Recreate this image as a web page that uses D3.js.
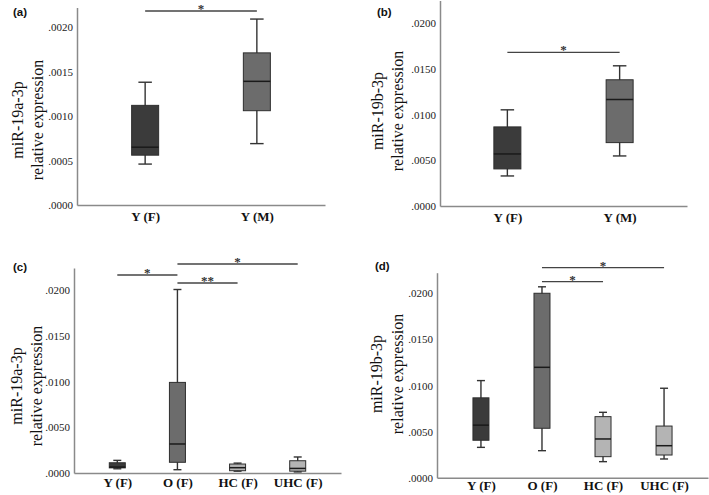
<!DOCTYPE html>
<html>
<head>
<meta charset="utf-8">
<script src="https://cdn.jsdelivr.net/npm/d3@7"></script>
<style>
  body { margin: 0; background: #fff; }
  svg { display: block; }
</style>
</head>
<body>
<svg id="chart" width="709" height="495"></svg>
<script>
// categories
const groupsYoung = ["Y (F)", "Y (M)"];
const groupsFemale = ["Y (F)", "O (F)", "HC (F)", "UHC (F)"];

// box stats: [lower whisker, Q1, median, Q3, upper whisker]
const miR19aYoung = [
    [0.00046, 0.00056, 0.00065, 0.00112, 0.00138],
    [0.00069, 0.00106, 0.00139, 0.00171, 0.00209]
];
const miR19bYoung = [
    [0.00329, 0.00406, 0.00570, 0.00866, 0.01053],
    [0.00548, 0.00694, 0.01166, 0.01382, 0.01535]
];
const miR19aFemale = [
    [0.00046, 0.00056, 0.00065, 0.00112, 0.00138],
    [0.00036, 0.00117, 0.00317, 0.00990, 0.02005],
    [0.00020, 0.00025, 0.00058, 0.00098, 0.00108],
    [0.00012, 0.00020, 0.00050, 0.00134, 0.00175]
];
const miR19bFemale = [
    [0.00329, 0.00406, 0.00570, 0.00866, 0.01053],
    [0.00293, 0.00536, 0.01197, 0.02000, 0.02070],
    [0.00174, 0.00228, 0.00420, 0.00662, 0.00709],
    [0.00203, 0.00246, 0.00347, 0.00560, 0.00970]
];

// tick labels
const ticks19aYoung = [0, 0.0005, 0.0010, 0.0015, 0.0020];
const ticksWide = [0, 0.0050, 0.0100, 0.0150, 0.0200];

// significance brackets: [from, to, mark]
const sigA = [["Y (F)", "Y (M)", "*"]];
const sigB = [["Y (F)", "Y (M)", "*"]];
const sigC = [["Y (F)", "O (F)", "*"], ["O (F)", "HC (F)", "**"], ["O (F)", "UHC (F)", "*"]];
const sigD = [["O (F)", "HC (F)", "*"], ["O (F)", "UHC (F)", "*"]];

const fillColor = {
    "Y (F)": "#3b3b3b",
    "Y (M)": "#6c6c6c",
    "O (F)": "#6c6c6c",
    "HC (F)": "#b4b4b4",
    "UHC (F)": "#b4b4b4"
};

const fmt = v => d3.format(".4f")(v).replace(/^0/, "");
const serif = "'Liberation Serif', 'Times New Roman', serif";

const panels = [
    { tag: "(a)", name: "miR-19a-3p", groups: groupsYoung, stats: miR19aYoung, ticks: ticks19aYoung, sig: sigA,
      x0: 77, x1: 325, yBottom: 205, yTop: 7.5, yMax: 0.00222, pad: 0.61, boxW: 27, labelPad: 7,
      sigY: [11], tagX: 13, tagY: 16, titleX: [18, 38], titleY: 120 },
    { tag: "(b)", name: "miR-19b-3p", groups: groupsYoung, stats: miR19bYoung, ticks: ticksWide, sig: sigB,
      x0: 440, x1: 687, yBottom: 206, yTop: 0.5, yMax: 0.0225, pad: 0.6, boxW: 27, labelPad: 7,
      sigY: [52.3], tagX: 377, tagY: 16, titleX: [378, 398], titleY: 111 },
    { tag: "(c)", name: "miR-19a-3p", groups: groupsFemale, stats: miR19aFemale, ticks: ticksWide, sig: sigC,
      x0: 74, x1: 341, yBottom: 473, yTop: 268, yMax: 0.0224, pad: 0.72, boxW: 16, labelPad: 4.5,
      sigY: [275, 283, 264], tagX: 13, tagY: 271, titleX: [17, 37], titleY: 386 },
    { tag: "(d)", name: "miR-19b-3p", groups: groupsFemale, stats: miR19bFemale, ticks: ticksWide, sig: sigD,
      x0: 437, x1: 708, yBottom: 477.7, yTop: 272.7, yMax: 0.02223, pad: 0.72, boxW: 16, labelPad: 3.5,
      sigY: [281.7, 267.7], tagX: 375, tagY: 270, titleX: [377, 398], titleY: 374 }
];

const svg = d3.select("#chart");

function drawPanel(p) {
    const g = svg.append("g");

    const x = d3.scalePoint().domain(p.groups).range([p.x0, p.x1]).padding(p.pad);
    const y = d3.scaleLinear().domain([0, p.yMax]).range([p.yBottom, p.yTop]);

    // y axis (line + labels, no tick marks)
    const yAxis = d3.axisLeft(y).tickValues(p.ticks).tickFormat(fmt).tickSize(0).tickPadding(4);
    g.append("g")
        .attr("transform", `translate(${p.x0},0)`)
        .call(yAxis)
        .call(a => a.select(".domain").attr("stroke", "#8a8a8a").attr("stroke-width", 1.5))
        .call(a => a.selectAll("text")
            .attr("font-family", serif)
            .attr("font-size", 11)
            .attr("fill", "#222"));

    // x axis
    const xAxis = d3.axisBottom(x).tickSize(0).tickPadding(p.labelPad);
    g.append("g")
        .attr("transform", `translate(0,${p.yBottom})`)
        .call(xAxis)
        .call(a => a.select(".domain").attr("stroke", "#8a8a8a").attr("stroke-width", 1.5))
        .call(a => a.selectAll("text")
            .attr("font-family", serif)
            .attr("font-weight", "bold")
            .attr("font-size", 13)
            .attr("fill", "#111"));

    // boxes
    const boxes = g.selectAll(".box")
        .data(p.groups.map((name, i) => ({ name, s: p.stats[i] })))
        .join("g")
        .attr("class", "box");

    const half = p.boxW / 2;
    const cap = p.boxW / 4;

    boxes.append("line")
        .attr("x1", d => x(d.name)).attr("x2", d => x(d.name))
        .attr("y1", d => y(d.s[0])).attr("y2", d => y(d.s[4]))
        .attr("stroke", "#333").attr("stroke-width", 1.4);

    boxes.selectAll(".cap")
        .data(d => [d.s[0], d.s[4]].map(v => ({ name: d.name, v })))
        .join("line")
        .attr("class", "cap")
        .attr("x1", d => x(d.name) - cap).attr("x2", d => x(d.name) + cap)
        .attr("y1", d => y(d.v)).attr("y2", d => y(d.v))
        .attr("stroke", "#333").attr("stroke-width", 1.4);

    boxes.append("rect")
        .attr("x", d => x(d.name) - half)
        .attr("width", p.boxW)
        .attr("y", d => y(d.s[3]))
        .attr("height", d => y(d.s[1]) - y(d.s[3]))
        .attr("fill", d => fillColor[d.name])
        .attr("stroke", "#2e2e2e").attr("stroke-width", 1);

    boxes.append("line")
        .attr("x1", d => x(d.name) - half).attr("x2", d => x(d.name) + half)
        .attr("y1", d => y(d.s[2])).attr("y2", d => y(d.s[2]))
        .attr("stroke", "#1a1a1a").attr("stroke-width", 1.5);

    // significance brackets
    p.sig.forEach(([from, to, mark], i) => {
        const ly = p.sigY[i];
        g.append("line")
            .attr("x1", x(from)).attr("x2", x(to))
            .attr("y1", ly).attr("y2", ly)
            .attr("stroke", "#444").attr("stroke-width", 1.3);
        g.append("text")
            .attr("x", (x(from) + x(to)) / 2)
            .attr("y", ly + 2)
            .attr("text-anchor", "middle")
            .attr("font-family", serif)
            .attr("font-weight", "bold")
            .attr("font-size", 13)
            .attr("fill", "#333")
            .text(mark);
    });

    // axis title, two lines rotated
    [p.name, "relative expression"].forEach((t, i) => {
        g.append("text")
            .attr("transform", `translate(${p.titleX[i] + 5},${p.titleY}) rotate(-90)`)
            .attr("text-anchor", "middle")
            .attr("font-family", serif)
            .attr("font-size", 16)
            .attr("fill", "#111")
            .text(t);
    });

    // panel tag
    g.append("text")
        .attr("x", p.tagX).attr("y", p.tagY)
        .attr("font-family", "'Liberation Sans', Arial, sans-serif")
        .attr("font-weight", "bold")
        .attr("font-size", 11.5)
        .attr("fill", "#111")
        .text(p.tag);
}

panels.forEach(drawPanel);
</script>
</body>
</html>
